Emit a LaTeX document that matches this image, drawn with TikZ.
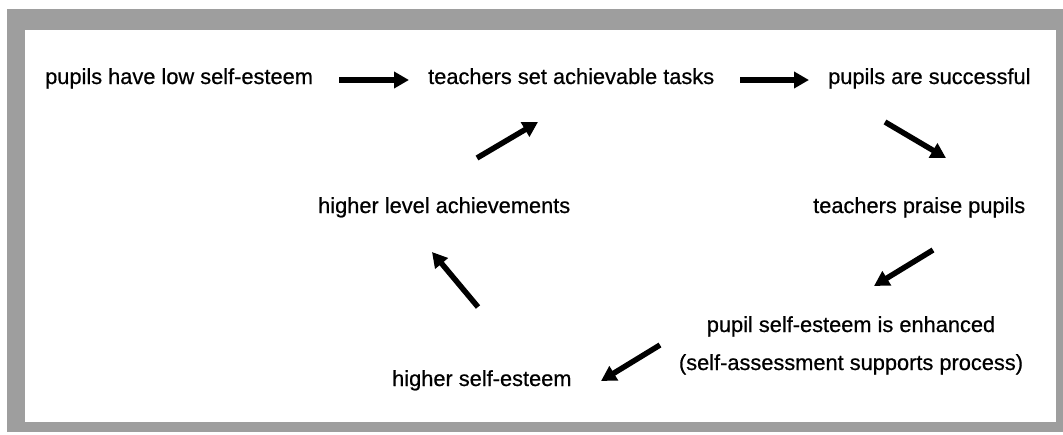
\documentclass[tikz,border=0pt]{standalone}
\usepackage{fontspec}
\setmainfont[FakeBold=0.6]{Liberation Sans}
\usetikzlibrary{arrows.meta}
\begin{document}
\begin{tikzpicture}[x=1pt,y=-1pt,
  lbl/.style={inner sep=0pt,font=\fontsize{21.8}{38}\selectfont,text=black},
  arr/.style={line width=5.5pt,-{Triangle[length=15pt,width=16pt]},black}]
\useasboundingbox (0,0) rectangle (1063,434);
\fill[black!38] (7,9) rectangle (1063,432);
\fill[white] (25,30) rectangle (1056,422);
% texts
\node[lbl,anchor=base west] (low) at (45,84) {pupils have low self-esteem};
\node[lbl,anchor=base west] (tasks) at (428,84) {teachers set achievable tasks};
\node[lbl,anchor=base west] (succ) at (828,84) {pupils are successful};
\node[lbl,anchor=base west] (praise) at (813,213) {teachers praise pupils};
\node[lbl,anchor=base west] (ach) at (318,213) {higher level achievements};
\node[lbl,align=center,anchor=north] (enh) at (851,316) {pupil self-esteem is enhanced\\(self-assessment supports process)};
\node[lbl,anchor=base west] (hse) at (392,386) {higher self-esteem};
% arrow end points
\coordinate (a1s) at (339,80); \coordinate (a1e) at (409,80);
\coordinate (a2s) at (740,80); \coordinate (a2e) at (809,80);
\coordinate (a3s) at (885,122); \coordinate (a3e) at (946,158);
\coordinate (a4s) at (933,250); \coordinate (a4e) at (874,286);
\coordinate (a5s) at (660,345); \coordinate (a5e) at (601,381);
\coordinate (a6s) at (478,307); \coordinate (a6e) at (432,252);
\coordinate (a7s) at (477,158); \coordinate (a7e) at (538,122);
\draw[arr] (a1s) -- (a1e);
\draw[arr] (a2s) -- (a2e);
\draw[arr] (a3s) -- (a3e);
\draw[arr] (a4s) -- (a4e);
\draw[arr] (a5s) -- (a5e);
\draw[arr] (a6s) -- (a6e);
\draw[arr] (a7s) -- (a7e);
\end{tikzpicture}
\end{document}
